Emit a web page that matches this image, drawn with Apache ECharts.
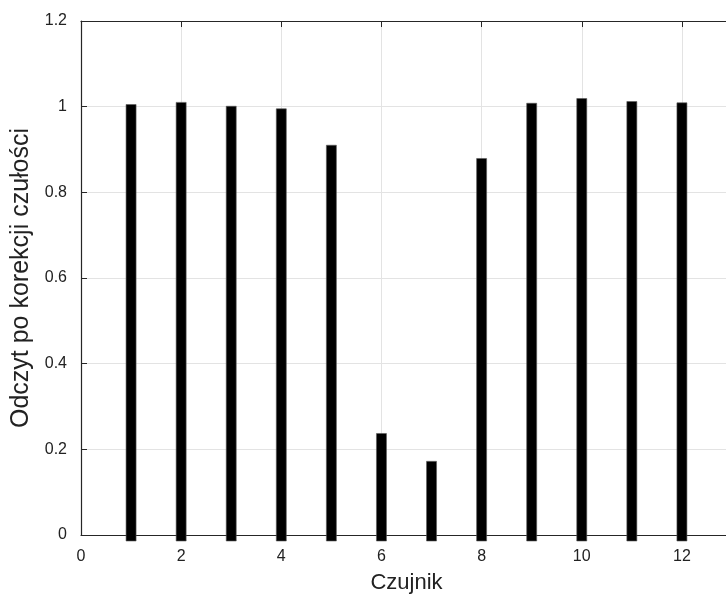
<!DOCTYPE html>
<html>
<head>
<meta charset="utf-8">
<script src="https://cdn.jsdelivr.net/npm/echarts@6/dist/echarts.min.js"></script>
<style>
  html, body { margin: 0; padding: 0; background: #fff; }
  #chart { width: 726px; height: 598px; }
</style>
</head>
<body>
<div id="chart"></div>
<script>
// Sensor numbers and their readings after sensitivity correction
const sensors = [1, 2, 3, 4, 5, 6, 7, 8, 9, 10, 11, 12];
const readings = [1.005, 1.010, 1.001, 0.995, 0.910, 0.237, 0.172, 0.879, 1.008, 1.019, 1.012, 1.009];

// Axis ranges and tick spacing
const xRange = [0, 13];
const xStep = 2;
const yRange = [0, 1.2];
const yStep = 0.2;

const FONT = 'Liberation Sans, Arial, Helvetica, sans-serif';
const AXIS_COLOR = '#262626';
const GRID_COLOR = '#e3e3e3';

const chart = echarts.init(document.getElementById('chart'), null, { renderer: 'canvas' });

const yFmt = v => String(Math.round(v * 10) / 10);

const baseX = {
  type: 'value', min: xRange[0], max: xRange[1], interval: xStep,
  axisLine: { show: true, onZero: false, lineStyle: { color: AXIS_COLOR, width: 1.2 } },
  axisTick: { show: true, inside: true, length: 6, lineStyle: { color: AXIS_COLOR } }
};
const baseY = {
  type: 'value', min: yRange[0], max: yRange[1], interval: yStep,
  axisLine: { show: true, onZero: false, lineStyle: { color: AXIS_COLOR, width: 1.2 } },
  axisTick: { show: true, inside: true, length: 6, lineStyle: { color: AXIS_COLOR } }
};

chart.setOption({
  animation: false,
  backgroundColor: '#fff',
  textStyle: { fontFamily: FONT },
  grid: { left: 81, top: 21, width: 651, height: 514, containLabel: false, outerBoundsMode: 'none' },
  xAxis: [
    Object.assign({}, baseX, {
      position: 'bottom',
      name: 'Czujnik',
      nameLocation: 'middle',
      nameGap: 37,
      nameTextStyle: { fontFamily: FONT, fontSize: 22, color: '#222' },
      axisLabel: { show: true, margin: 14, fontFamily: FONT, fontSize: 16, color: '#222',
        formatter: v => (v >= xRange[1] ? '' : String(v)) },
      splitLine: { show: true, lineStyle: { color: GRID_COLOR, width: 1 } }
    }),
    Object.assign({}, baseX, {
      position: 'top',
      axisLabel: { show: false },
      splitLine: { show: false }
    })
  ],
  yAxis: [
    Object.assign({}, baseY, {
      position: 'left',
      name: 'Odczyt po korekcji czułości',
      nameLocation: 'middle',
      nameGap: 46,
      nameTextStyle: { fontFamily: FONT, fontSize: 25, color: '#222' },
      axisLabel: { show: true, margin: 14, fontFamily: FONT, fontSize: 16, color: '#222', formatter: yFmt },
      splitLine: { show: true, lineStyle: { color: GRID_COLOR, width: 1 } }
    }),
    Object.assign({}, baseY, {
      position: 'right',
      axisLabel: { show: false },
      splitLine: { show: false }
    })
  ],
  series: [{
    type: 'custom',
    clip: false,
    z: 5,
    data: sensors.map((s, i) => [s, readings[i]]),
    encode: { x: 0, y: 1 },
    renderItem: function (params, api) {
      const x = api.value(0);
      const v = api.value(1);
      const top = api.coord([x, v]);
      const base = api.coord([x, 0]);
      const w = 10;
      return {
        type: 'rect',
        shape: { x: top[0] - w / 2, y: top[1], width: w, height: base[1] - top[1] + 6 },
        style: { fill: '#000', stroke: '#5a5a5a', lineWidth: 0.6 }
      };
    }
  }]
});
</script>
</body>
</html>
